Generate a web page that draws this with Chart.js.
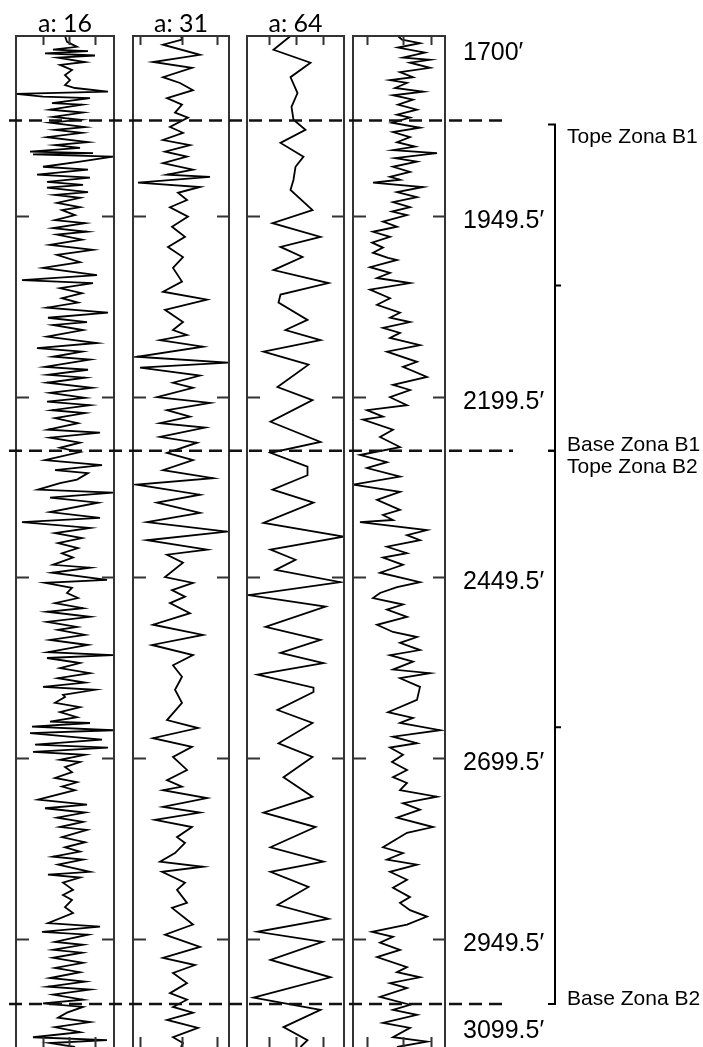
<!DOCTYPE html>
<html>
<head>
<meta charset="utf-8">
<script src="https://cdn.jsdelivr.net/npm/chart.js@4.4.1/dist/chart.umd.min.js"></script>
<style>
  html, body { margin: 0; padding: 0; background: #fff; overflow: hidden; }
  #wrap { position: relative; width: 703px; height: 1047px; overflow: hidden; }
  canvas { position: absolute; }
</style>
</head>
<body>
<div id="wrap">
  <canvas id="t1"></canvas>
  <canvas id="t2"></canvas>
  <canvas id="t3"></canvas>
  <canvas id="t4"></canvas>
  <canvas id="ov"></canvas>
</div>
<script>
// depth axis (feet)
const depthTop = 1700;
const depthBottom = 3099.5;
const depthLabels = [1700, 1949.5, 2199.5, 2449.5, 2699.5, 2949.5, 3099.5];

// zones
const zoneNames = ["Zona B1", "Zona B2"];
const zoneTops = [1817, 2274];
const zoneBases = [2274, 3040];

const trackTitles = ["a: 16", "a: 31", "a: 64", ""];

// wavelet coefficients, scale a = 16
const a16Depth = [1700,1708,1715,1719,1721,1724,1727,1730,1736,1740,1747,1754,1761,1768,1772,1777,1780,1784,1786,1793,
  1795,1802,1806,1812,1816,1820,1826,1830,1834,1840,1847,1851,1855,1860,1862,1864,1867,1874,1881,1885,
  1892,1896,1902,1906,1910,1916,1920,1924,1931,1937,1941,1948,1955,1959,1966,1971,1975,1982,1989,1996,
  2003,2013,2021,2031,2038,2042,2049,2056,2063,2069,2076,2083,2090,2096,2100,2107,2116,2125,2132,2137,
  2144,2148,2158,2162,2169,2173,2180,2187,2194,2201,2206,2211,2218,2222,2229,2236,2245,2249,2256,2263,
  2270,2276,2287,2294,2301,2305,2314,2319,2328,2332,2339,2346,2359,2367,2373,2381,2388,2395,2402,2409,
  2416,2422,2432,2436,2443,2453,2457,2464,2471,2478,2485,2492,2497,2504,2511,2518,2522,2529,2536,2543,
  2553,2557,2561,2568,2575,2582,2589,2595,2601,2605,2612,2615,2623,2629,2636,2643,2649,2651,2656,2661,
  2665,2674,2681,2685,2691,2695,2702,2705,2712,2719,2727,2733,2739,2744,2757,2764,2769,2775,2782,2788,
  2795,2799,2809,2816,2823,2829,2836,2840,2847,2857,2861,2865,2872,2882,2889,2896,2906,2914,2928,2933,
  2940,2944,2954,2958,2965,2969,2976,2983,2990,2996,3004,3009,3016,3020,3027,3034,3039,3044,3052,3059,
  3065,3072,3079,3086,3090,3094,3099.5];
const a16Value = [0,2,12,-12,23,-20,30,-7,20,-5,7,0,5,0,10,43,-49,-22,25,-13,
  17,-15,18,-12,15,-15,20,-10,17,-18,23,-10,15,-35,28,-32,48,15,-22,23,
  -28,25,-18,18,-18,23,-10,15,-8,15,-3,10,-10,20,-12,22,-8,17,-15,28,
  -8,15,-22,32,-43,28,-5,17,-3,13,-18,43,-17,22,-12,18,-18,32,-28,17,
  -12,25,-20,23,-17,20,-18,27,-15,20,-18,25,-13,20,-10,13,-17,35,-15,15,
  -5,15,-20,37,-10,23,12,-5,-27,48,-15,33,-15,35,-43,25,-10,17,-7,13,
  -3,8,-12,25,-13,42,-20,7,2,13,-10,18,-18,25,-18,12,-7,20,-15,23,
  -17,48,-18,15,-5,25,-7,20,-22,30,-2,0,-10,15,-5,12,-15,25,-33,48,
  -35,37,-30,43,-32,20,-5,15,0,7,-10,12,-3,10,-27,22,-20,20,-8,18,
  -5,22,-3,20,0,15,-12,18,-7,25,-17,15,-2,8,-2,7,0,8,-17,35,
  -23,23,-10,18,-12,17,-12,18,-10,15,-15,20,-17,25,-12,18,-22,18,2,-7,
  25,-10,15,-32,42,-15,10];

// wavelet coefficients, scale a = 31
const a31Depth = [1700,1705,1712,1726,1736,1744,1757,1765,1775,1786,1795,1806,1813,1826,1834,1844,1851,1860,1867,1876,
  1885,1892,1895,1903,1909,1917,1927,1937,1950,1964,1978,1992,2006,2021,2040,2054,2065,2079,2096,2107,
  2114,2121,2130,2144,2152,2159,2170,2180,2187,2200,2208,2218,2227,2236,2242,2255,2263,2277,2287,2301,
  2312,2321,2335,2346,2360,2373,2386,2398,2411,2418,2429,2449,2457,2467,2476,2485,2499,2515,2529,2543,
  2557,2571,2587,2605,2623,2647,2658,2672,2684,2698,2716,2730,2739,2744,2755,2767,2775,2785,2795,2809,
  2817,2831,2843,2850,2857,2872,2882,2900,2907,2930,2944,2961,2976,2986,2997,3011,3025,3034,3044,3052,
  3062,3073,3086,3094,3099.5];
const a31Value = [0,1,-18,19,-28,11,-18,-1,12,-14,1,-6,7,-11,2,-18,9,-16,6,-18,
  12,-14,29,-43,19,-3,6,-11,7,-9,4,-13,2,-8,1,-18,26,-16,2,-8,
  6,-21,22,-44,47,-41,19,-8,12,-24,29,-14,9,-21,24,-21,16,-14,12,-18,
  32,-44,19,-24,19,-34,46,-34,26,-14,2,-16,12,-9,4,-11,9,-28,22,-29,
  12,-8,1,-6,1,-14,17,-28,11,-8,6,-14,1,-18,26,-18,19,-26,11,-4,
  4,-6,-21,22,-19,4,-4,6,-9,12,-16,19,-18,14,-8,6,-11,6,-8,12,
  -14,17,-8,2,0];

// wavelet coefficients, scale a = 64
const a64Depth = [1700,1719,1737,1757,1779,1798,1816,1830,1848,1867,1881,1899,1913,1941,1959,1978,1992,2006,2024,2042,
  2058,2069,2093,2107,2121,2137,2155,2186,2204,2234,2262,2277,2296,2308,2328,2346,2374,2393,2411,2425,
  2439,2456,2474,2490,2518,2536,2554,2568,2584,2602,2608,2633,2651,2679,2698,2726,2753,2775,2795,2823,
  2843,2857,2878,2903,2922,2940,2954,2979,3003,3031,3048,3072,3090,3099.5];
const a64Value = [-5,-22,15,-5,2,-4,-2,10,-15,8,0,-2,-5,17,-23,25,-15,7,-22,33,
  -15,-17,12,-10,25,-32,13,-18,17,-25,25,-25,12,12,-23,18,-32,48,-25,0,
  -20,45,-47,30,-30,25,-15,28,-38,18,18,-18,17,-17,17,-12,17,-32,20,-25,
  28,-25,13,-18,33,-38,27,-25,35,-42,25,-12,12,5];

// original log
const logDepth = [1700,1705,1710,1716,1723,1730,1733,1737,1744,1750,1757,1761,1765,1772,1777,1782,1788,1795,1802,1809,
  1813,1820,1827,1833,1840,1847,1853,1858,1862,1869,1874,1881,1888,1895,1899,1903,1909,1916,1923,1930,
  1937,1943,1948,1957,1964,1971,1978,1986,1993,2000,2007,2010,2020,2028,2035,2042,2051,2063,2072,2083,
  2090,2096,2104,2111,2118,2128,2137,2151,2158,2172,2183,2190,2200,2211,2218,2227,2231,2245,2255,2269,
  2280,2290,2298,2310,2321,2331,2342,2356,2363,2370,2373,2384,2391,2398,2407,2416,2422,2432,2443,2456,
  2463,2471,2478,2487,2494,2504,2515,2525,2532,2540,2550,2557,2566,2577,2582,2589,2601,2619,2636,2644,
  2651,2661,2670,2679,2685,2695,2705,2716,2726,2734,2744,2753,2762,2771,2782,2795,2803,2823,2831,2840,
  2847,2857,2868,2879,2892,2900,2910,2919,2930,2940,2947,2955,2965,2975,2989,2996,3003,3011,3018,3030,
  3041,3048,3055,3066,3073,3086,3092,3099.5];
const logValue = [45,49,67,45,72,50,77,57,77,47,60,37,54,42,70,40,60,45,64,44,
  57,39,67,40,57,44,62,40,84,42,64,40,57,37,47,20,70,44,64,40,
  57,39,54,30,44,20,37,19,30,20,35,44,17,37,24,57,17,37,24,47,
  37,57,30,47,37,67,34,64,50,74,40,57,37,54,14,30,10,40,27,47,
  7,34,14,47,0,47,24,47,30,40,7,74,54,67,34,54,30,50,27,67,
  44,27,20,50,34,54,24,40,64,47,67,37,60,40,77,47,67,64,35,60,
  47,87,40,64,37,50,39,54,40,54,47,84,50,67,44,80,54,30,50,34,
  64,37,54,40,57,47,57,74,54,19,40,27,47,24,54,44,67,37,54,27,
  57,40,64,30,57,40,74,44];

// layout
const plotTop = 36;
const plotBottom = 1047;
const tracks = [
  { id: "t1", left: 16, right: 114, min: -49, max: 49, ticks: [-22, 4, 30], depth: a16Depth, value: a16Value },
  { id: "t2", left: 133, right: 229, min: -48, max: 48, ticks: [-41, 1, 36], depth: a31Depth, value: a31Value },
  { id: "t3", left: 247, right: 344, min: -48.5, max: 48.5, ticks: [-27, 0, 27], depth: a64Depth, value: a64Value },
  { id: "t4", left: 353, right: 445, min: 0, max: 92, ticks: [14, 50, 78], depth: logDepth, value: logValue }
];

// frame and inward ticks of one track
function trackFrame(t) {
  return {
    id: "trackFrame",
    afterDraw(chart) {
      const ctx = chart.ctx;
      const a = chart.chartArea;
      const xs = chart.scales.x, ys = chart.scales.y;
      ctx.save();
      ctx.strokeStyle = "#333";
      ctx.lineWidth = 2;
      ctx.strokeRect(a.left, a.top, a.right - a.left, a.bottom - a.top + 4);
      ctx.beginPath();
      t.ticks.forEach(v => {
        const x = Math.round(xs.getPixelForValue(v)) + 0.5;
        ctx.moveTo(x, a.top); ctx.lineTo(x, a.top + 9);
        ctx.moveTo(x, a.bottom); ctx.lineTo(x, a.bottom - 10);
      });
      depthLabels.slice(1, -1).forEach(d => {
        const y = Math.round(ys.getPixelForValue(d)) + 0.5;
        ctx.moveTo(a.left, y); ctx.lineTo(a.left + 13, y);
        ctx.moveTo(a.right, y); ctx.lineTo(a.right - 12, y);
      });
      ctx.stroke();
      ctx.restore();
    }
  };
}

Chart.defaults.font.family = "'Liberation Sans', Arial, sans-serif";

tracks.forEach(t => {
  const cv = document.getElementById(t.id);
  cv.width = t.right - t.left + 2;
  cv.height = plotBottom - plotTop + 6;
  cv.style.left = (t.left - 1) + "px";
  cv.style.top = (plotTop - 2) + "px";
  const pts = t.depth.map((d, i) => ({ x: t.value[i], y: d }));
  new Chart(cv, {
    type: "line",
    data: {
      datasets: [{
        data: pts,
        borderColor: "#000",
        borderWidth: 1.8,
        pointRadius: 0,
        tension: 0,
        fill: false
      }]
    },
    options: {
      responsive: false,
      animation: false,
      devicePixelRatio: 1,
      events: [],
      layout: { padding: { left: 1, right: 1, top: 2, bottom: 4 } },
      plugins: { legend: { display: false }, tooltip: { enabled: false } },
      scales: {
        x: { type: "linear", min: t.min, max: t.max, display: false },
        y: { type: "linear", reverse: true, min: depthTop, max: depthBottom, display: false }
      }
    },
    plugins: [trackFrame(t)]
  });
});

// overlay: titles, zone lines, brackets, depth labels
const overlay = {
  id: "overlay",
  afterDraw(chart) {
    const ctx = chart.ctx;
    const ys = chart.scales.y;
    ctx.save();

    ctx.fillStyle = "#000";
    ctx.textAlign = "center";
    ctx.textBaseline = "middle";
    ctx.font = "25px Lato, 'Liberation Sans', sans-serif";
    tracks.forEach((t, i) => {
      if (trackTitles[i]) ctx.fillText(trackTitles[i], (t.left + t.right) / 2, 24);
    });

    // dashed zone boundaries
    const bounds = [zoneTops[0], zoneBases[0], zoneBases[1]];
    const ends = [503, 513, 503];
    ctx.strokeStyle = "#111";
    ctx.lineWidth = 2.5;
    ctx.setLineDash([13, 7]);
    bounds.forEach((d, i) => {
      const y = ys.getPixelForValue(d);
      ctx.beginPath();
      ctx.moveTo(9, y);
      ctx.lineTo(ends[i], y);
      ctx.stroke();
    });
    ctx.setLineDash([]);

    // brackets
    const bx = 555;
    ctx.lineWidth = 2;
    ctx.strokeStyle = "#000";
    zoneNames.forEach((n, i) => {
      const y0 = ys.getPixelForValue(zoneTops[i]) + (i === 0 ? 4 : 0);
      const y1 = ys.getPixelForValue(zoneBases[i]);
      const ym = ys.getPixelForValue((zoneTops[i] + zoneBases[i]) / 2);
      ctx.beginPath();
      ctx.moveTo(bx - 7, y0); ctx.lineTo(bx, y0); ctx.lineTo(bx, y1); ctx.lineTo(bx - 7, y1);
      ctx.moveTo(bx, ym); ctx.lineTo(bx + 6, ym);
      ctx.stroke();
    });

    // zone labels
    ctx.font = "21px 'Liberation Sans', Arial, sans-serif";
    ctx.textAlign = "left";
    zoneNames.forEach((n, i) => {
      ctx.fillText("Tope " + n, 567, ys.getPixelForValue(zoneTops[i]) + 17);
      ctx.fillText("Base " + n, 567, ys.getPixelForValue(zoneBases[i]) - 5);
    });

    // depth labels
    ctx.font = "25px 'Liberation Sans', Arial, sans-serif";
    ctx.textAlign = "left";
    depthLabels.forEach(d => {
      let y = ys.getPixelForValue(d) + 5;
      y = Math.max(plotTop + 17, Math.min(plotBottom - 16, y));
      ctx.fillText(d + "\u2032", 463, y);
    });
    ctx.restore();
  }
};

const ov = document.getElementById("ov");
ov.width = 703;
ov.height = 1047;
ov.style.left = "0px";
ov.style.top = "0px";
new Chart(ov, {
  type: "line",
  data: { datasets: [] },
  options: {
    responsive: false,
    animation: false,
    devicePixelRatio: 1,
    events: [],
    layout: { padding: { left: 0, right: 0, top: plotTop, bottom: 1047 - plotBottom } },
    plugins: { legend: { display: false }, tooltip: { enabled: false } },
    scales: {
      x: { type: "linear", min: 0, max: 703, display: false },
      y: { type: "linear", reverse: true, min: depthTop, max: depthBottom, display: false }
    }
  },
  plugins: [overlay]
});
</script>
</body>
</html>
